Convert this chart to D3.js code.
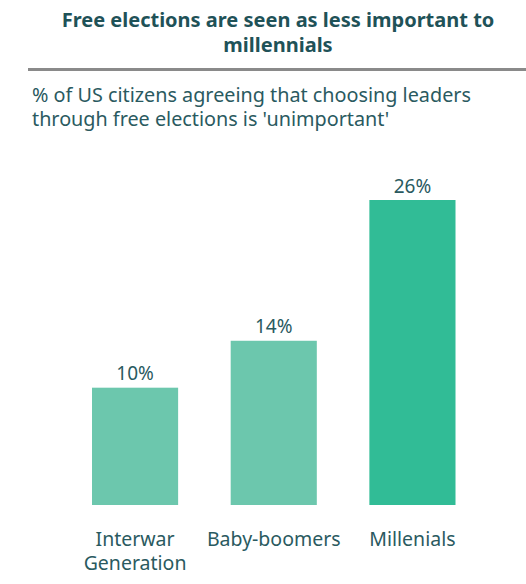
<!DOCTYPE html>
<html>
<head>
<meta charset="utf-8">
<script src="https://cdn.jsdelivr.net/npm/d3@7"></script>
<style>
  body { margin: 0; background: #fff; }
  text { font-family: "Noto Sans", sans-serif; }
</style>
</head>
<body>
<div class="canvas"></div>
<script>
var w = 526;
var h = 584;

// data
var categories = ["Interwar Generation", "Baby-boomers", "Millenials"];
var values = [10, 14, 26];
var labelLines = [["Interwar", "Generation"], ["Baby-boomers"], ["Millenials"]];
var barColors = ["#6cc7ad", "#6cc7ad", "#31bc96"];

var titleLines = ["Free elections are seen as less important to", "millennials"];
var subtitleLines = ["% of US citizens agreeing that choosing leaders", "through free elections is 'unimportant'"];

var textColor = "#2a5a5f";

var svg = d3.select(".canvas").append("svg")
    .attr("width", w)
    .attr("height", h);

svg.append("rect").attr("width", w).attr("height", h).attr("fill", "#fff");

// title
svg.append("text")
    .attr("x", 278)
    .attr("y", 27)
    .attr("text-anchor", "middle")
    .attr("fill", "#1f5258")
    .attr("font-size", "20px")
    .attr("font-weight", "bold")
    .selectAll("tspan")
    .data(titleLines)
    .enter().append("tspan")
    .attr("x", 278)
    .attr("dy", function(d, i) { return i == 0 ? 0 : 25; })
    .text(function(d) { return d; });

// grey rule
svg.append("line")
    .attr("x1", 28).attr("x2", w)
    .attr("y1", 69.5).attr("y2", 69.5)
    .attr("stroke", "#8a8a8a")
    .attr("stroke-width", 3);

// subtitle
svg.append("text")
    .attr("x", 32)
    .attr("y", 102)
    .attr("fill", textColor)
    .attr("font-size", "19.8px")
    .selectAll("tspan")
    .data(subtitleLines)
    .enter().append("tspan")
    .attr("x", 32)
    .attr("dy", function(d, i) { return i == 0 ? 0 : 23.5; })
    .text(function(d) { return d; });

var xScale = d3.scaleBand()
    .domain(categories)
    .range([92, 455.5])
    .paddingInner(0.379)
    .paddingOuter(0);

var yScale = d3.scaleLinear()
    .domain([0, 26])
    .range([505, 200]);

var bars = svg.append("g");

bars.selectAll("rect")
    .data(values)
    .enter().append("rect")
    .attr("x", function(d, i) { return xScale(categories[i]); })
    .attr("y", function(d) { return yScale(d); })
    .attr("width", xScale.bandwidth())
    .attr("height", function(d) { return yScale(0) - yScale(d); })
    .attr("fill", function(d, i) { return barColors[i]; });

bars.selectAll("text.val")
    .data(values)
    .enter().append("text")
    .attr("class", "val")
    .attr("x", function(d, i) { return xScale(categories[i]) + xScale.bandwidth() / 2; })
    .attr("y", function(d) { return yScale(d) - 7.5; })
    .attr("text-anchor", "middle")
    .attr("fill", textColor)
    .attr("font-size", "19px")
    .text(function(d) { return d + "%"; });

var labels = svg.append("g");
labels.selectAll("text")
    .data(categories)
    .enter().append("text")
    .attr("x", function(d) { return xScale(d) + xScale.bandwidth() / 2; })
    .attr("y", 546)
    .attr("text-anchor", "middle")
    .attr("fill", textColor)
    .attr("font-size", "19.5px")
    .each(function(d, i) {
        var t = d3.select(this);
        var cx = xScale(d) + xScale.bandwidth() / 2;
        labelLines[i].forEach(function(line, j) {
            t.append("tspan")
                .attr("x", cx)
                .attr("dy", j == 0 ? 0 : 24)
                .text(line);
        });
    });
</script>
</body>
</html>
